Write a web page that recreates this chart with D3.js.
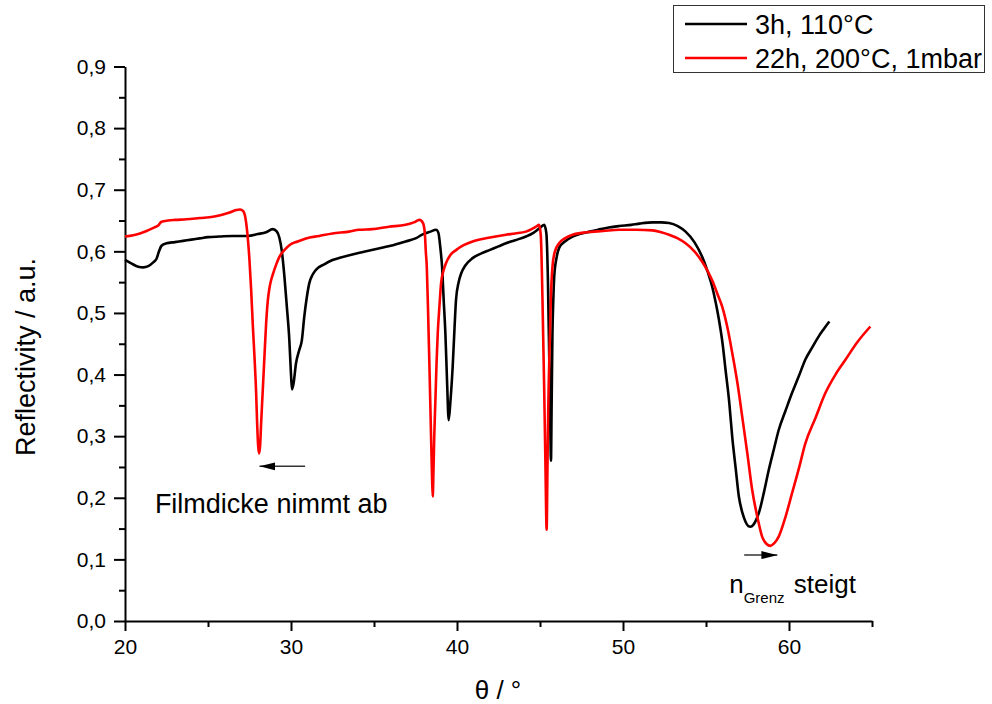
<!DOCTYPE html>
<html>
<head>
<meta charset="utf-8">
<script src="https://cdn.jsdelivr.net/npm/d3@7"></script>
<style>
  html, body { margin: 0; padding: 0; background: #fff; }
  svg { display: block; font-family: "Liberation Sans", Arial, sans-serif; }
</style>
</head>
<body>
<svg id="chart" width="992" height="704"></svg>
<script>
// Reflectivity curves: angle θ (°) and reflectivity (a.u.)
const seriesNames = ["3h, 110°C", "22h, 200°C, 1mbar"];
const seriesColors = ["#000000", "#ff0000"];

const thetaA = [20.0,20.4,20.8,21.1,21.4,21.7,21.9,22.05,22.2,22.5,23.0,23.5,24.0,24.5,25.0,25.7,26.5,27.4,28.0,28.5,28.9,29.15,29.3,29.45,29.6,29.75,29.9,30.0,30.06,30.15,30.3,30.5,30.65,30.8,30.95,31.1,31.3,31.5,32.0,32.5,33.0,34.0,35.0,36.0,36.9,37.5,37.9,38.4,38.74,38.88,39.0,39.1,39.2,39.3,39.4,39.5,39.6,39.74,39.85,39.94,40.1,40.25,40.5,40.94,41.5,41.95,42.5,42.95,43.5,44.15,44.6,44.95,45.25,45.38,45.48,45.56,45.63,45.66,45.7,45.75,45.8,45.86,46.0,46.16,46.5,46.96,47.5,48.0,48.5,49.0,49.77,50.5,51.0,51.77,52.3,52.77,53.3,53.77,54.3,54.77,55.1,55.37,55.6,55.78,56.0,56.18,56.4,56.58,56.8,56.98,57.2,57.38,57.55,57.68,57.85,58.0,58.18,58.5,58.78,59.1,59.38,59.8,60.18,60.6,60.98,61.4,61.79,62.1,62.43];
const reflA = [0.586,0.580,0.575,0.574,0.576,0.582,0.588,0.600,0.609,0.613,0.615,0.617,0.619,0.621,0.623,0.624,0.625,0.625,0.628,0.631,0.636,0.632,0.622,0.600,0.560,0.510,0.456,0.400,0.376,0.385,0.418,0.440,0.455,0.494,0.525,0.548,0.562,0.570,0.579,0.586,0.590,0.597,0.603,0.609,0.616,0.621,0.627,0.632,0.635,0.630,0.605,0.575,0.520,0.467,0.390,0.326,0.355,0.413,0.475,0.521,0.550,0.564,0.577,0.589,0.597,0.602,0.608,0.613,0.618,0.624,0.630,0.637,0.643,0.630,0.550,0.420,0.300,0.260,0.350,0.467,0.520,0.560,0.590,0.606,0.616,0.624,0.629,0.632,0.635,0.638,0.641,0.643,0.645,0.647,0.647,0.646,0.641,0.632,0.615,0.591,0.567,0.543,0.515,0.489,0.450,0.407,0.355,0.299,0.245,0.202,0.175,0.161,0.154,0.153,0.156,0.163,0.175,0.210,0.245,0.280,0.310,0.342,0.370,0.398,0.424,0.444,0.462,0.474,0.486];

const thetaB = [20.0,20.5,20.9,21.3,21.7,22.0,22.2,22.6,23.0,23.7,24.5,25.3,25.8,26.3,26.7,26.9,27.1,27.25,27.35,27.5,27.6,27.7,27.8,27.9,27.96,28.02,28.08,28.14,28.2,28.3,28.4,28.5,28.6,28.7,28.8,28.9,29.1,29.3,29.6,29.9,30.4,30.9,31.7,32.5,33.5,34.1,34.9,35.9,36.9,37.4,37.74,37.95,38.06,38.12,38.18,38.26,38.34,38.42,38.5,38.54,38.58,38.63,38.7,38.77,38.84,38.94,39.04,39.18,39.34,39.6,39.94,40.4,40.94,41.9,42.95,43.5,44.15,44.5,44.76,44.95,45.05,45.15,45.25,45.33,45.4,45.45,45.5,45.55,45.65,45.75,45.9,46.15,46.5,46.96,47.8,48.8,49.77,50.8,51.77,52.3,52.77,53.3,53.77,54.3,54.77,55.1,55.37,55.7,55.98,56.3,56.58,56.9,57.18,57.5,57.78,58.1,58.38,58.65,58.88,59.1,59.38,59.8,60.18,60.6,60.98,61.6,62.19,62.8,63.4,64.1,64.9];
const reflB = [0.624,0.626,0.629,0.633,0.638,0.642,0.648,0.650,0.651,0.652,0.654,0.656,0.659,0.663,0.667,0.668,0.666,0.655,0.635,0.585,0.537,0.480,0.429,0.370,0.321,0.285,0.272,0.285,0.321,0.375,0.429,0.482,0.519,0.540,0.553,0.562,0.578,0.591,0.602,0.610,0.616,0.621,0.625,0.629,0.632,0.635,0.636,0.640,0.643,0.647,0.651,0.646,0.630,0.600,0.575,0.500,0.413,0.320,0.230,0.202,0.240,0.300,0.359,0.420,0.467,0.510,0.548,0.568,0.581,0.594,0.602,0.610,0.616,0.622,0.627,0.629,0.632,0.636,0.640,0.643,0.625,0.521,0.380,0.250,0.148,0.250,0.350,0.413,0.520,0.575,0.600,0.613,0.621,0.627,0.631,0.633,0.635,0.635,0.634,0.631,0.627,0.621,0.613,0.600,0.583,0.568,0.553,0.530,0.510,0.475,0.435,0.385,0.332,0.270,0.213,0.168,0.137,0.125,0.122,0.126,0.137,0.170,0.207,0.248,0.288,0.330,0.370,0.400,0.424,0.452,0.478];

// Axis ticks
const xMajorTicks = [20, 30, 40, 50, 60];
const xMinorTicks = [25, 35, 45, 55, 65];
const yMajorTicks = [0, 0.1, 0.2, 0.3, 0.4, 0.5, 0.6, 0.7, 0.8, 0.9];
const yMinorTicks = [0.05, 0.15, 0.25, 0.35, 0.45, 0.55, 0.65, 0.75, 0.85];

// Annotations: arrows [x1, x2, y] and labels
const arrowFilm = [30.85, 28.1, 0.251];
const arrowGrenz = [57.3, 59.3, 0.107];
const labelFilm = { text: "Filmdicke nimmt ab", x: 21.8, y: 0.176 };
const labelGrenz = { main: "n", sub: "Grenz", rest: " steigt", x: 56.4, y: 0.045 };

const svg = d3.select("#chart");
const x = d3.scaleLinear().domain([20, 65]).range([125, 872]);
const y = d3.scaleLinear().domain([0, 0.9]).range([621, 66.5]);
const fmt = v => d3.format(".1f")(v).replace(".", ",");

// Axes
const axisStyle = g => {
  g.selectAll("path.domain").attr("stroke", "#000").attr("stroke-width", 2);
  g.selectAll(".tick line").attr("stroke", "#000").attr("stroke-width", 2);
  g.selectAll(".tick text").attr("fill", "#000").style("font-size", "21px")
    .style("font-family", "'Liberation Sans', Arial, sans-serif");
};

svg.append("g").attr("transform", "translate(0,621)")
  .call(d3.axisBottom(x).tickValues(xMinorTicks).tickSize(6).tickSizeOuter(0).tickFormat(""))
  .call(axisStyle);
svg.append("g").attr("transform", "translate(0,621)")
  .call(d3.axisBottom(x).tickValues(xMajorTicks).tickSize(10).tickSizeOuter(0).tickPadding(8).tickFormat(d3.format("d")))
  .call(axisStyle)
  .call(g => g.select("path.domain").remove());

svg.append("g").attr("transform", "translate(125,0)")
  .call(d3.axisLeft(y).tickValues(yMinorTicks).tickSize(6).tickSizeOuter(0).tickFormat(""))
  .call(axisStyle);
svg.append("g").attr("transform", "translate(125,0)")
  .call(d3.axisLeft(y).tickValues(yMajorTicks).tickSize(11).tickSizeOuter(0).tickPadding(8).tickFormat(fmt))
  .call(axisStyle)
  .call(g => g.select("path.domain").remove());

// Axis titles
svg.append("text")
  .attr("transform", "translate(35,357) rotate(-90)")
  .attr("text-anchor", "middle")
  .style("font-size", "27px")
  .text("Reflectivity / a.u.");
svg.append("text")
  .attr("x", 498).attr("y", 699)
  .attr("text-anchor", "middle")
  .style("font-size", "26px")
  .text("θ / °");

// Curves
const series = [
  thetaA.map((t, i) => [t, reflA[i]]),
  thetaB.map((t, i) => [t, reflB[i]])
];
const line = d3.line().x(d => x(d[0])).y(d => y(d[1])).curve(d3.curveMonotoneX);
series.forEach((s, i) => {
  svg.append("path")
    .datum(s)
    .attr("fill", "none")
    .attr("stroke", seriesColors[i])
    .attr("stroke-width", 2.6)
    .attr("stroke-linejoin", "round")
    .attr("d", line);
});

// Arrows
const defs = svg.append("defs");
defs.append("marker")
  .attr("id", "head")
  .attr("viewBox", "0 0 16 10")
  .attr("refX", 16).attr("refY", 5)
  .attr("markerWidth", 16).attr("markerHeight", 10)
  .attr("markerUnits", "userSpaceOnUse")
  .attr("orient", "auto")
  .append("path").attr("d", "M0,1 L16,5 L0,9 Z").attr("fill", "#000");

[arrowFilm, arrowGrenz].forEach(a => {
  svg.append("line")
    .attr("x1", x(a[0])).attr("x2", x(a[1]))
    .attr("y1", y(a[2])).attr("y2", y(a[2]))
    .attr("stroke", "#333").attr("stroke-width", 1.5)
    .attr("marker-end", "url(#head)");
});

// Annotation labels
svg.append("text")
  .attr("x", x(labelFilm.x)).attr("y", y(labelFilm.y))
  .style("font-size", "27px")
  .text(labelFilm.text);
const g2 = svg.append("text")
  .attr("x", x(labelGrenz.x)).attr("y", y(labelGrenz.y))
  .style("font-size", "26px");
g2.append("tspan").text(labelGrenz.main);
g2.append("tspan").attr("dy", 10).style("font-size", "15px").text(labelGrenz.sub);
g2.append("tspan").attr("dy", -10).attr("dx", 2).text(labelGrenz.rest);

// Legend
const legend = svg.append("g");
legend.append("rect")
  .attr("x", 673.5).attr("y", 5.5).attr("width", 311).attr("height", 67)
  .attr("fill", "#fff").attr("stroke", "#333").attr("stroke-width", 1);
seriesNames.forEach((name, i) => {
  const ly = 24 + i * 34;
  legend.append("line")
    .attr("x1", 685).attr("x2", 747).attr("y1", ly).attr("y2", ly)
    .attr("stroke", seriesColors[i]).attr("stroke-width", 2.6);
  legend.append("text")
    .attr("x", 755).attr("y", ly + 10)
    .style("font-size", "27px")
    .text(name);
});
</script>
</body>
</html>
